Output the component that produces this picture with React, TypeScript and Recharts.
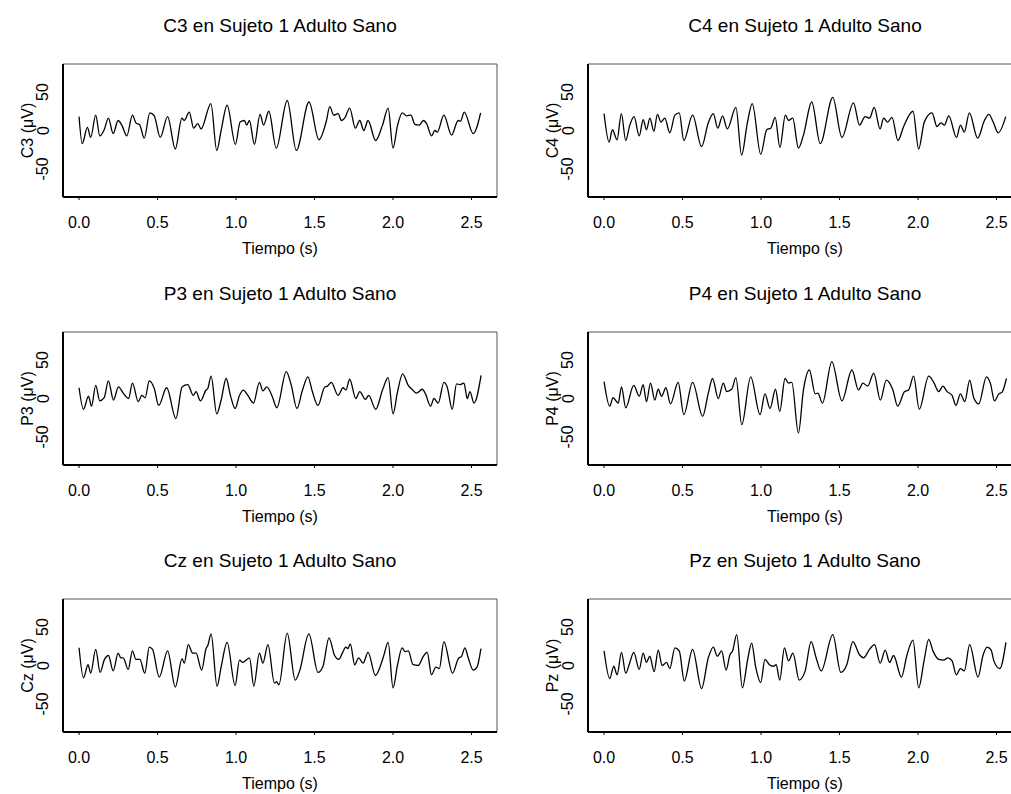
import { Line, LineChart, ReferenceLine, XAxis, YAxis } from 'recharts'

// axis setup (R-style: 4% padding around data / ylim)
const timeTicks = [0, 0.5, 1, 1.5, 2, 2.5]
const voltTicks = [-50, 0, 50]
const xDomain: [number, number] = [-0.1024, 2.6624]
const yDomain: [number, number] = [-86.4, 86.4]

// C3 — turning points of the trace (s, µV)
const c3Times = [0, 0.02, 0.053, 0.074, 0.106, 0.132, 0.16, 0.187, 0.217, 0.249, 0.272, 0.304, 0.34, 0.362, 0.387, 0.415, 0.451, 0.479, 0.517, 0.564, 0.613, 0.655, 0.67, 0.702, 0.73, 0.756, 0.777, 0.84, 0.877, 0.905, 0.943, 0.996, 1.026, 1.053, 1.068, 1.085, 1.117, 1.153, 1.175, 1.209, 1.256, 1.326, 1.384, 1.465, 1.528, 1.575, 1.597, 1.622, 1.65, 1.671, 1.692, 1.724, 1.76, 1.788, 1.814, 1.841, 1.889, 1.933, 1.969, 2.0, 2.029, 2.059, 2.087, 2.114, 2.139, 2.167, 2.193, 2.214, 2.245, 2.267, 2.282, 2.324, 2.373, 2.415, 2.43, 2.454, 2.511, 2.558]
const c3Values = [18, -17, 4, -9, 20, -7, 1, 16, -4, 13, 7, -7, 20, 10, 7, -10, 23, 19, -9, 18, -24, 16, 13, 24, 3, 9, 2, 35, -26, 0, 33, -18, 11, 13, 7, 13, -18, 21, 7, 25, -23, 39, -26, 37, -12, 12, 31, 20, 22, 13, 16, 29, 3, 13, 0, 13, -13, 7, 29, -23, 7, 23, 19, 20, 8, 7, 13, 9, -7, 0, -2, 20, -6, 13, 12, 24, -4, 23]

// C4
const c4Times = [0, 0.032, 0.053, 0.083, 0.11, 0.138, 0.164, 0.191, 0.224, 0.249, 0.27, 0.292, 0.317, 0.34, 0.362, 0.387, 0.419, 0.451, 0.479, 0.508, 0.564, 0.621, 0.664, 0.696, 0.724, 0.755, 0.785, 0.84, 0.876, 0.912, 0.944, 0.998, 1.036, 1.062, 1.09, 1.12, 1.155, 1.175, 1.202, 1.238, 1.27, 1.323, 1.377, 1.457, 1.515, 1.589, 1.627, 1.663, 1.691, 1.721, 1.758, 1.781, 1.806, 1.834, 1.872, 1.908, 1.968, 2.004, 2.04, 2.089, 2.121, 2.146, 2.168, 2.196, 2.245, 2.27, 2.295, 2.327, 2.38, 2.423, 2.451, 2.479, 2.511, 2.559]
const c4Values = [22, -15, 1, -12, 22, -13, 7, 18, -7, 14, 1, 16, -1, 21, 11, 16, -3, 20, 23, -13, 20, -21, 10, 22, 3, 19, 2, 30, -32, 9, 35, -31, 1, 3, 17, -22, 20, 13, 16, -23, -6, 37, -17, 43, -9, 36, 7, 18, 16, 30, 2, 16, 11, 17, -13, 5, 25, -24, 11, 23, 5, 10, 7, 19, -9, 7, -2, 23, -10, 13, 21, 11, -3, 18]

// P3
const p3Times = [0, 0.028, 0.06, 0.079, 0.106, 0.132, 0.16, 0.187, 0.219, 0.251, 0.281, 0.315, 0.34, 0.377, 0.4, 0.421, 0.447, 0.479, 0.507, 0.558, 0.617, 0.656, 0.692, 0.728, 0.745, 0.773, 0.809, 0.82, 0.841, 0.877, 0.905, 0.937, 0.964, 0.994, 1.022, 1.047, 1.075, 1.111, 1.149, 1.171, 1.196, 1.23, 1.26, 1.32, 1.352, 1.388, 1.422, 1.458, 1.486, 1.522, 1.565, 1.582, 1.607, 1.65, 1.682, 1.7, 1.724, 1.763, 1.788, 1.824, 1.845, 1.89, 1.933, 1.969, 2.0, 2.029, 2.061, 2.097, 2.125, 2.15, 2.186, 2.207, 2.239, 2.261, 2.288, 2.324, 2.345, 2.377, 2.405, 2.426, 2.452, 2.473, 2.49, 2.516, 2.561]
const p3Values = [14, -14, 3, -10, 17, -3, 1, 23, -2, 15, 7, 0, 20, -4, 4, 1, 23, 13, -9, 14, -26, 15, 18, 4, 9, -3, 11, 13, 29, -20, -2, 26, 4, -13, 4, 11, 4, -6, 21, 10, 15, 3, -12, 35, 17, -13, 10, 28, 9, -9, 15, 16, 21, 4, 14, 11, 25, 0, 9, -1, 4, -14, 11, 27, -20, 9, 32, 17, 11, 7, 12, 6, -10, 0, -6, 21, 15, -14, 19, 18, 20, 0, 9, -6, 30]

// P4
const p4Times = [0, 0.036, 0.057, 0.09, 0.111, 0.138, 0.189, 0.224, 0.249, 0.27, 0.296, 0.323, 0.345, 0.366, 0.394, 0.423, 0.472, 0.508, 0.564, 0.628, 0.664, 0.691, 0.727, 0.76, 0.781, 0.813, 0.84, 0.877, 0.934, 0.994, 1.025, 1.057, 1.092, 1.119, 1.153, 1.175, 1.196, 1.238, 1.27, 1.308, 1.345, 1.362, 1.391, 1.451, 1.515, 1.579, 1.621, 1.649, 1.679, 1.718, 1.76, 1.798, 1.84, 1.87, 1.915, 1.94, 1.972, 2.008, 2.068, 2.1, 2.132, 2.159, 2.185, 2.217, 2.242, 2.27, 2.298, 2.329, 2.355, 2.387, 2.436, 2.462, 2.487, 2.515, 2.535, 2.563]
const p4Values = [22, -10, 1, -6, 15, -12, 17, 3, 18, -4, 20, -2, 12, 3, 14, -7, 21, -21, 21, -23, 7, 26, 0, 20, 9, 12, 27, -34, 28, -21, 6, -13, 12, -17, 26, 20, 21, -45, 11, 37, 6, 7, -6, 48, -3, 37, 11, 20, 16, 33, -2, 24, 11, -10, 9, 11, 29, -14, 29, 21, 9, 16, 9, 4, -9, 6, -4, 24, 1, -7, 28, 19, -3, 6, 8, 26]

// Cz
const czTimes = [0, 0.028, 0.057, 0.074, 0.106, 0.134, 0.16, 0.187, 0.217, 0.249, 0.266, 0.281, 0.313, 0.34, 0.362, 0.387, 0.419, 0.447, 0.468, 0.511, 0.564, 0.613, 0.656, 0.67, 0.696, 0.724, 0.745, 0.781, 0.809, 0.82, 0.841, 0.879, 0.905, 0.943, 0.994, 1.022, 1.043, 1.064, 1.086, 1.113, 1.149, 1.171, 1.203, 1.245, 1.258, 1.273, 1.326, 1.377, 1.405, 1.464, 1.522, 1.554, 1.592, 1.628, 1.654, 1.677, 1.699, 1.712, 1.728, 1.756, 1.781, 1.809, 1.841, 1.888, 1.937, 1.969, 2.0, 2.029, 2.058, 2.077, 2.097, 2.128, 2.161, 2.193, 2.218, 2.245, 2.273, 2.295, 2.324, 2.379, 2.416, 2.437, 2.458, 2.479, 2.511, 2.535, 2.56]
const czValues = [23, -16, 1, -10, 21, -9, 7, 13, -7, 16, 10, 10, -5, 19, 8, 8, -10, 24, 21, -15, 19, -28, 9, 3, 27, 16, 16, -6, 22, 26, 41, -27, -2, 30, -26, 7, 4, 7, 10, -27, 16, 3, 27, -23, -21, -25, 42, -19, -7, 41, -9, -1, 36, 13, 8, 16, 24, 22, 28, 1, 10, 3, 17, -13, 10, 30, -29, 1, 23, 18, 19, 1, 0, 12, 17, -12, -2, -4, 31, -10, 9, 12, 23, 10, -6, -2, 22]

// Pz
const pzTimes = [0, 0.036, 0.062, 0.083, 0.111, 0.138, 0.164, 0.189, 0.224, 0.249, 0.27, 0.291, 0.319, 0.345, 0.37, 0.398, 0.419, 0.451, 0.479, 0.511, 0.564, 0.621, 0.664, 0.696, 0.721, 0.749, 0.777, 0.802, 0.819, 0.845, 0.881, 0.915, 0.94, 0.966, 0.998, 1.025, 1.053, 1.079, 1.096, 1.119, 1.149, 1.175, 1.203, 1.243, 1.281, 1.319, 1.351, 1.383, 1.457, 1.508, 1.546, 1.585, 1.627, 1.653, 1.691, 1.723, 1.759, 1.791, 1.819, 1.844, 1.894, 1.93, 1.968, 2.004, 2.04, 2.068, 2.095, 2.132, 2.164, 2.189, 2.217, 2.244, 2.27, 2.295, 2.329, 2.382, 2.415, 2.44, 2.466, 2.483, 2.521, 2.56]
const pzValues = [19, -17, -1, -12, 17, -10, 4, 17, -5, 16, 4, 12, -8, 20, 0, 4, -4, 23, 19, -20, 21, -30, 10, 24, 12, 19, -6, 14, 19, 40, -29, 8, 29, -2, -22, 8, 1, -1, 1, -19, 23, 6, 16, -19, -7, 31, 10, -7, 40, -9, 1, 31, 14, 10, 21, 27, 3, 20, 4, 13, -15, 14, 33, -29, 8, 34, 19, 8, 7, 10, 6, -12, -4, -7, 27, -15, 14, 24, 20, 6, -4, 30]

const FONT = '"Liberation Sans", Arial, Helvetica, sans-serif'

// geometry of one panel (plot box 434 x 133)
const BOX_W = 434
const BOX_H = 133
const M_LEFT = 13
const Y_W = 50
const M_TOP = 10
const M_RIGHT = 7
const X_H = 60
const CHART_W = M_LEFT + Y_W + BOX_W + M_RIGHT
const CHART_H = M_TOP + BOX_H + X_H

const renderXTick = (props: any) => (
  <text x={props.x} y={props.y} dy="0.71em" textAnchor="middle" fontSize={16} fontFamily={FONT} fill="#000">
    {Number(props.payload.value).toFixed(1)}
  </text>
)

const renderYTick = (props: any) => {
  const x = props.x - 14.5
  return (
    <text x={x} y={props.y} transform={`rotate(-90, ${x}, ${props.y})`} textAnchor="middle" fontSize={16} fontFamily={FONT} fill="#000">
      {props.payload.value}
    </text>
  )
}

interface PanelProps {
  name: string
  times: number[]
  values: number[]
  boxLeft: number
  boxTop: number
}

function Panel({ name, times, values, boxLeft, boxTop }: PanelProps) {
  const data = times.map((t, i) => ({ t, v: values[i] }))
  const bx = M_LEFT + Y_W
  const by = M_TOP
  return (
    <div style={{ position: 'absolute', left: boxLeft - bx, top: boxTop - by, width: CHART_W, height: CHART_H }}>
      <LineChart width={CHART_W} height={CHART_H} data={data} margin={{ top: M_TOP, right: M_RIGHT, left: M_LEFT, bottom: 0 }}>
        <XAxis
          dataKey="t"
          type="number"
          domain={xDomain}
          ticks={timeTicks}
          interval={0}
          allowDataOverflow
          height={X_H}
          tickSize={3}
          tickMargin={17}
          axisLine={{ stroke: '#000', strokeWidth: 2 }}
          tickLine={{ stroke: '#000' }}
          tick={renderXTick}
        />
        <YAxis
          type="number"
          domain={yDomain}
          ticks={voltTicks}
          interval={0}
          allowDataOverflow
          width={Y_W}
          tickSize={0}
          tickMargin={0}
          tickLine={false}
          axisLine={{ stroke: '#000', strokeWidth: 2 }}
          tick={renderYTick}
        />
        <ReferenceLine y={yDomain[1]} stroke="#555" />
        <ReferenceLine x={xDomain[1]} stroke="#555" />
        <Line dataKey="v" type="monotone" stroke="#000" strokeWidth={1.3} dot={false} isAnimationActive={false} />
      </LineChart>
      <svg
        width={CHART_W}
        height={CHART_H}
        style={{ position: 'absolute', left: 0, top: 0, overflow: 'visible', pointerEvents: 'none' }}
        fontFamily={FONT}
      >
        <text x={bx + BOX_W / 2} y={by - 32} textAnchor="middle" fontSize={19} fill="#000">
          {name} en Sujeto 1 Adulto Sano
        </text>
        <text x={bx + BOX_W / 2} y={by + BOX_H + 57} textAnchor="middle" fontSize={16} fill="#000">
          Tiempo (s)
        </text>
        <text
          x={bx - 30.5}
          y={by + BOX_H / 2}
          transform={`rotate(-90, ${bx - 30.5}, ${by + BOX_H / 2})`}
          textAnchor="middle"
          fontSize={16}
          fill="#000"
        >
          {name} (μV)
        </text>
      </svg>
    </div>
  )
}

export default function App() {
  return (
    <div style={{ position: 'absolute', left: 0, top: 0, width: 1011, height: 794, overflow: 'hidden', background: '#fff' }}>
      <Panel name="C3" times={c3Times} values={c3Values} boxLeft={63} boxTop={64} />
      <Panel name="C4" times={c4Times} values={c4Values} boxLeft={588} boxTop={64} />
      <Panel name="P3" times={p3Times} values={p3Values} boxLeft={63} boxTop={332} />
      <Panel name="P4" times={p4Times} values={p4Values} boxLeft={588} boxTop={332} />
      <Panel name="Cz" times={czTimes} values={czValues} boxLeft={63} boxTop={599} />
      <Panel name="Pz" times={pzTimes} values={pzValues} boxLeft={588} boxTop={599} />
    </div>
  )
}
